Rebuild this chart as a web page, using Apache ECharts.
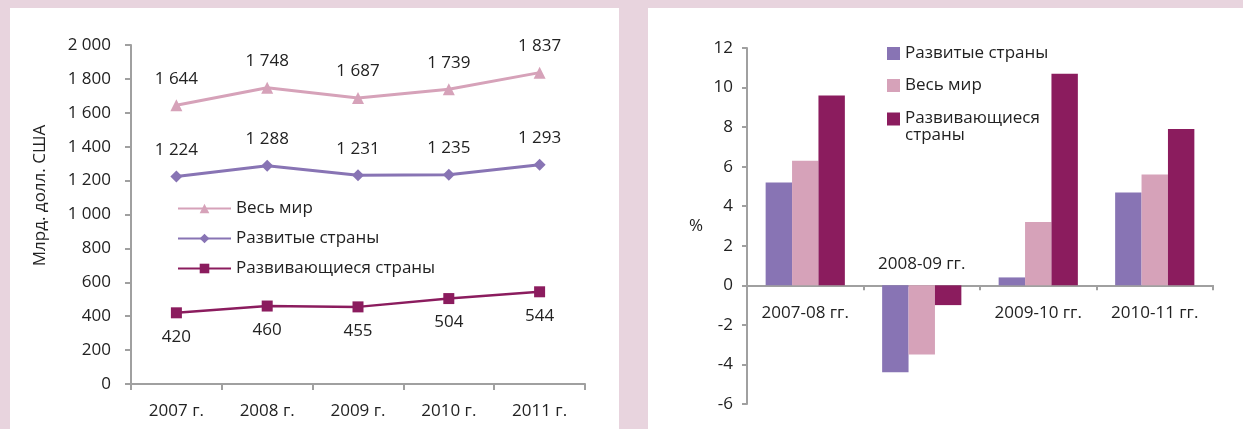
<!DOCTYPE html>
<html>
<head>
<meta charset="utf-8">
<script src="https://cdn.jsdelivr.net/npm/echarts@6/dist/echarts.min.js"></script>
<style>
  html, body { margin: 0; padding: 0; background: #e8d4de; }
  #chart { width: 1243px; height: 429px; }
</style>
</head>
<body>
<div id="chart"></div>
<script>
// левый график: млрд долл. США
const years = ['2007 г.', '2008 г.', '2009 г.', '2010 г.', '2011 г.'];
const worldVals = [1644, 1748, 1687, 1739, 1837];
const developedVals = [1224, 1288, 1231, 1235, 1293];
const developingVals = [420, 460, 455, 504, 544];

// правый график: прирост, %
const periods = ['2007-08 гг.', '2008-09 гг.', '2009-10 гг.', '2010-11 гг.'];
const developedPct = [5.2, -4.4, 0.4, 4.7];
const worldPct = [6.3, -3.5, 3.2, 5.6];
const developingPct = [9.6, -1.0, 10.7, 7.9];

const FONT = 'Open Sans';
const FS = 17;
const TXT = '#222';
const AXIS = '#a0a0a0';
const C_WORLD = '#d6a2b9';
const C_DEV = '#8874b4';
const C_DEVING = '#8b1c5e';

// "1 644" — пробел как разделитель тысяч
const fmt = v => String(v).replace(/\B(?=(\d{3})+(?!\d))/g, ' ');

const chart = echarts.init(document.getElementById('chart'), null, { renderer: 'canvas' });

const axisLine = { show: true, onZero: false, lineStyle: { color: AXIS, width: 2 } };
const axisTick = { show: true, length: 6, lineStyle: { color: AXIS, width: 2 } };
const txt = { fontSize: FS, color: TXT, fontFamily: FONT };

// правая сетка: ось категорий проходит через ноль
const R_TOP = 48, R_H = 356, R_MIN = -6, R_MAX = 12;
const zeroOffset = -(R_H * (0 - R_MIN) / (R_MAX - R_MIN));

const option = {
  backgroundColor: '#e8d4de',
  textStyle: { fontFamily: FONT },
  animation: false,
  graphic: [
    { type: 'rect', z: -10, shape: { x: 10, y: 8, width: 609, height: 430 }, style: { fill: '#fff' } },
    { type: 'rect', z: -10, shape: { x: 648, y: 8, width: 600, height: 430 }, style: { fill: '#fff' } }
  ],
  grid: [
    { left: 131, top: 45, width: 454, height: 339, outerBoundsMode: 'none' },
    { left: 747, top: R_TOP, width: 466, height: R_H, outerBoundsMode: 'none' }
  ],
  legend: [
    {
      left: 177, top: 200, padding: 0, orient: 'vertical', itemWidth: 53, itemHeight: 12, itemGap: 13,
      textStyle: txt,
      data: ['Весь мир', 'Развитые страны', 'Развивающиеся страны']
    },
    {
      left: 887, top: 45, padding: 0, orient: 'vertical', itemWidth: 13, itemHeight: 13, itemGap: 15,
      icon: 'rect', itemStyle: { borderWidth: 0 },
      textStyle: txt,
      data: [
        { name: 'Развитые страны', icon: 'rect' },
        { name: 'Весь мир', icon: 'rect' }
      ]
    },
    {
      left: 887, top: 110, padding: 0, itemWidth: 13, itemHeight: 13,
      icon: 'rect', itemStyle: { borderWidth: 0 },
      textStyle: {
        ...txt,
        rich: {
          a: { ...txt, lineHeight: 32 },
          b: { ...txt, lineHeight: 1 }
        }
      },
      formatter: () => '{a|Развивающиеся}\n{b|страны}',
      data: [{ name: 'Развивающиеся страны', icon: 'rect' }]
    }
  ],
  xAxis: [
    {
      gridIndex: 0, type: 'category', data: years, boundaryGap: true,
      axisLine, axisTick,
      axisLabel: { ...txt, margin: 19 },
      splitLine: { show: false }
    },
    {
      gridIndex: 1, type: 'category', data: periods, position: 'bottom', offset: zeroOffset,
      axisLine, axisTick: { ...axisTick, length: 5 },
      axisLabel: { ...txt, margin: 19, formatter: v => v === '2008-09 гг.' ? '' : v },
      splitLine: { show: false }
    },
    {
      // подпись 2008-09 стоит над осью
      gridIndex: 1, type: 'category', data: periods, position: 'bottom', offset: zeroOffset,
      axisLine: { show: false, onZero: false },
      axisTick: { show: false },
      axisLabel: { ...txt, inside: true, margin: 13, formatter: v => v === '2008-09 гг.' ? v : '' },
      splitLine: { show: false }
    }
  ],
  yAxis: [
    {
      gridIndex: 0, type: 'value', min: 0, max: 2000, interval: 200,
      axisLine, axisTick,
      axisLabel: { ...txt, margin: 20, formatter: fmt },
      splitLine: { show: false },
      name: 'Млрд. долл. США', nameLocation: 'middle', nameGap: 82,
      nameTextStyle: { ...txt, padding: [0, 0, 0, 38] }
    },
    {
      gridIndex: 1, type: 'value', min: R_MIN, max: R_MAX, interval: 2,
      axisLine, axisTick: { ...axisTick, length: 5 },
      axisLabel: { ...txt, margin: 14 },
      splitLine: { show: false },
      name: '%', nameLocation: 'middle', nameRotate: 0, nameGap: 44,
      nameTextStyle: txt
    }
  ],
  series: [
    {
      name: 'Весь мир', type: 'line', xAxisIndex: 0, yAxisIndex: 0, data: worldVals,
      symbol: 'triangle', symbolSize: 12,
      lineStyle: { color: C_WORLD, width: 3 }, itemStyle: { color: C_WORLD },
      label: { show: true, position: 'top', distance: 12, ...txt, formatter: p => fmt(p.value) }
    },
    {
      name: 'Развитые страны', type: 'line', xAxisIndex: 0, yAxisIndex: 0, data: developedVals,
      symbol: 'diamond', symbolSize: 12,
      lineStyle: { color: C_DEV, width: 3 }, itemStyle: { color: C_DEV },
      label: { show: true, position: 'top', distance: 12, ...txt, formatter: p => fmt(p.value) }
    },
    {
      name: 'Развивающиеся страны', type: 'line', xAxisIndex: 0, yAxisIndex: 0, data: developingVals,
      symbol: 'rect', symbolSize: 11,
      lineStyle: { color: C_DEVING, width: 2.5 }, itemStyle: { color: C_DEVING },
      label: { show: true, position: 'bottom', distance: 10, ...txt, formatter: p => fmt(p.value) }
    },
    {
      name: 'Развитые страны', type: 'bar', xAxisIndex: 1, yAxisIndex: 1, data: developedPct,
      barGap: '0%', barCategoryGap: '32%', itemStyle: { color: C_DEV }
    },
    {
      name: 'Весь мир', type: 'bar', xAxisIndex: 1, yAxisIndex: 1, data: worldPct,
      barGap: '0%', barCategoryGap: '32%', itemStyle: { color: C_WORLD }
    },
    {
      name: 'Развивающиеся страны', type: 'bar', xAxisIndex: 1, yAxisIndex: 1, data: developingPct,
      barGap: '0%', barCategoryGap: '32%', itemStyle: { color: C_DEVING }
    }
  ]
};

chart.setOption(option);
</script>
</body>
</html>
